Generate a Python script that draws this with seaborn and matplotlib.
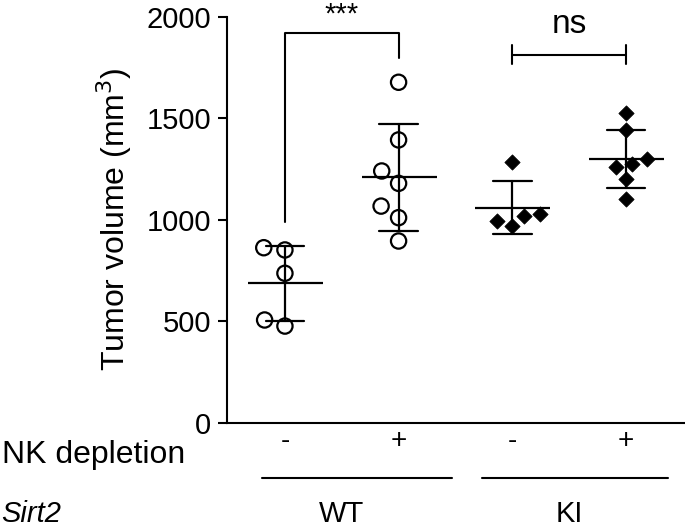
import matplotlib
matplotlib.use("Agg")
import matplotlib.pyplot as plt
from matplotlib.transforms import Affine2D
import seaborn as sns
import pandas as pd

# values (mm3)
groups = ["WT-", "WT+", "KI-", "KI+"]
wt_neg = [862, 851, 736, 506, 476]
wt_pos = [1677, 1393, 1240, 1179, 1067, 1010, 895]
ki_neg = [1286, 1028, 1020, 995, 970]
ki_pos = [1527, 1442, 1298, 1274, 1258, 1199, 1100]
nk_labels = ["-", "+", "-", "+"]
sirt2_labels = ["WT", "KI"]
y_ticks = [0, 500, 1000, 1500, 2000]

df = pd.DataFrame({
    "group": ["WT-"] * len(wt_neg) + ["WT+"] * len(wt_pos)
             + ["KI-"] * len(ki_neg) + ["KI+"] * len(ki_pos),
    "volume": wt_neg + wt_pos + ki_neg + ki_pos,
})
wt = df[df.group.str.startswith("WT")]
ki = df[df.group.str.startswith("KI")]

sns.set_style("ticks")
plt.rcParams["font.family"] = ["Liberation Sans", "DejaVu Sans"]
for k in ["text.color", "axes.labelcolor", "xtick.color", "ytick.color", "axes.edgecolor"]:
    plt.rcParams[k] = "black"

fig = plt.figure(figsize=(6.85, 5.28), dpi=100)
ax = fig.add_axes([227.3 / 685, 105.3 / 528, 1 - 227.3 / 685, 406 / 528])

# mean +- SD
sns.pointplot(data=df, x="group", y="volume", order=groups, errorbar="sd",
              color="black", linestyle="none", marker="_", markersize=54,
              markeredgewidth=1.6, capsize=0.34, err_kws={"linewidth": 1.6},
              ax=ax, zorder=3)


def swarm(data, size, shown, **kw):
    # swarm spacing uses `size`, the drawn marker is shrunk to `shown`
    n0 = len(ax.collections)
    sns.swarmplot(data=data, x="group", y="volume", order=groups, size=size,
                  ax=ax, zorder=4, **kw)
    for coll in ax.collections[n0:]:
        coll.set_paths([p.transformed(Affine2D().scale(shown / size))
                        for p in coll.get_paths()])


swarm(wt, 13, 11, marker="o", color="black", facecolors="none",
      edgecolor="black", linewidth=1.6)
swarm(ki, 10.5, 7.8, marker="D", color="black", edgecolor="black", linewidth=0.5)

ax.set_xlim(-0.507, 3.52)
ax.set_ylim(0, 2000)
ax.set_yticks(y_ticks)
ax.tick_params(axis="y", labelsize=21, width=1.5, length=6.5, pad=5)
ax.tick_params(axis="x", length=0, labelsize=20, pad=4)
ax.set_xticks(range(4))
ax.set_xticklabels(nk_labels)
ax.set_xlabel("")
ax.set_ylabel("Tumor volume (mm$^3$)", fontsize=23, labelpad=9)
sns.despine(ax=ax)
for s in ["left", "bottom"]:
    ax.spines[s].set_linewidth(1.5)

# significance marks
ax.plot([0, 0, 1, 1], [990, 1918, 1918, 1798], color="black", lw=1.5, clip_on=False)
ax.text(0.5, 2080, "***", ha="center", va="top", fontsize=21)
ax.plot([2, 3], [1810, 1810], color="black", lw=1.5, clip_on=False)
for xx in [2, 3]:
    ax.plot([xx, xx], [1766, 1860], color="black", lw=1.5, clip_on=False)
ax.text(2.5, 1918, "ns", ha="center", va="baseline", fontsize=24)

# group rows below the axis
tr = ax.get_xaxis_transform()
fig.text(0.003, (528 - 463.3) / 528, "NK depletion", fontsize=23, va="baseline")
fig.text(0.002, 0.0, "Sirt2", fontsize=21, style="italic", va="bottom")
for x0, x1 in [(-0.205, 1.466), (1.73, 3.372)]:
    ax.plot([x0, x1], [-0.137, -0.137], color="black", lw=1.5, transform=tr, clip_on=False)
for xc, lab in zip([0.5, 2.5], sirt2_labels):
    ax.text(xc, -105.3 / 406, lab, ha="center", va="bottom", fontsize=21, transform=tr)

fig.savefig("out.png", dpi=100)
